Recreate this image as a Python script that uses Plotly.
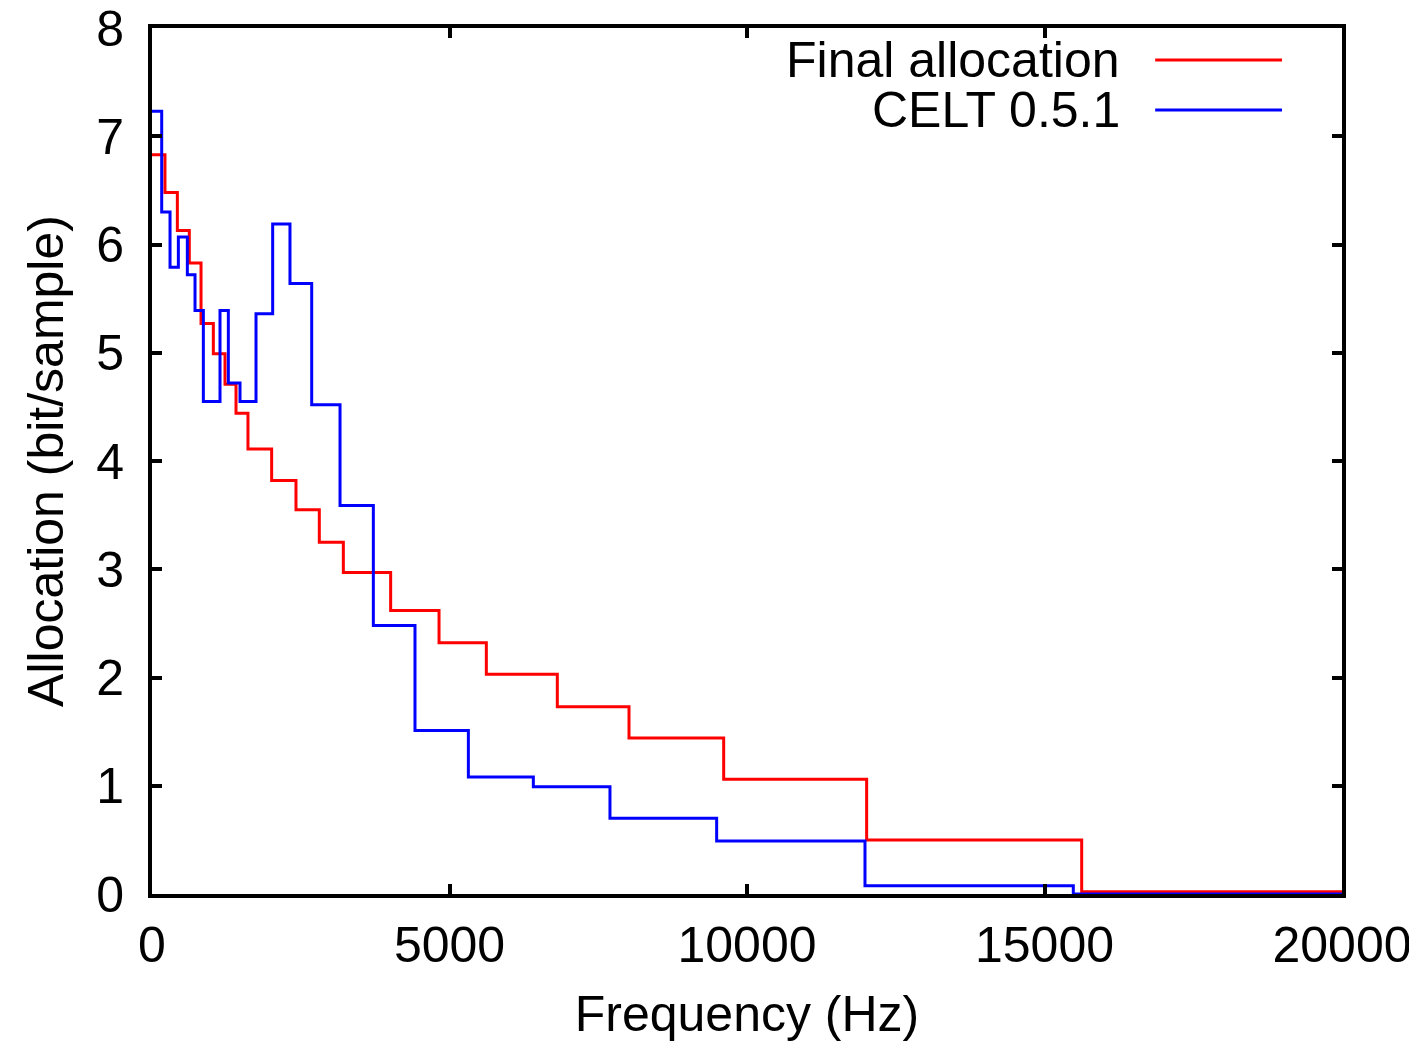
import plotly.graph_objects as go

# Band edges (Hz) and allocations (bit/sample)
final_edges = [0, 218, 426, 627, 824, 1031, 1227, 1412, 1613, 2011, 2420, 2812, 3216,
               4011, 4824, 5619, 6812, 8017, 9608, 12011, 15625, 20000]
final_alloc = [6.83, 6.48, 6.13, 5.83, 5.27, 4.99, 4.71, 4.44, 4.11, 3.82, 3.55, 3.25,
               2.97, 2.62, 2.32, 2.03, 1.73, 1.44, 1.06, 0.50, 0.02]

celt_edges = [0, 163, 303, 443, 594, 723, 863, 1143, 1283, 1479, 1748, 2028, 2319, 2684,
              3160, 3720, 4420, 5317, 6409, 7697, 9490, 11983, 15484, 20000]
celt_alloc = [7.23, 6.30, 5.79, 6.07, 5.72, 5.39, 4.55, 5.39, 4.72, 4.55, 5.36, 6.19, 5.64,
              4.52, 3.59, 2.48, 1.51, 1.08, 0.99, 0.70, 0.49, 0.077, 0.0]

x_ticks = [0, 5000, 10000, 15000, 20000]
x_tick_labels = ["0", "5000", "10000", "15000", "20000"]
y_ticks = [0, 1, 2, 3, 4, 5, 6, 7, 8]
y_tick_labels = ["0", "1", "2", "3", "4", "5", "6", "7", "8"]

series = [
    ("Final allocation", final_edges, final_alloc, "#ff0000"),
    ("CELT 0.5.1", celt_edges, celt_alloc, "#0000ff"),
]

FONT = "Liberation Sans, Arial, Helvetica, sans-serif"
FS = 50
fig = go.Figure()
for name, edges, vals, color in series:
    fig.add_trace(go.Scatter(
        x=edges, y=vals + [vals[-1]], mode="lines", name=name,
        line=dict(color=color, width=3, shape="hv"), showlegend=False))

# gnuplot-style key: text on the left, line sample on the right
key_y = [0.963, 0.9053]
for (name, edges, vals, color), ky in zip(series, key_y):
    fig.add_annotation(xref="paper", yref="paper", x=0.8151, y=ky, text=name,
                       showarrow=False, xanchor="right", yanchor="middle",
                       font=dict(family=FONT, size=FS, color="black"))
    fig.add_shape(type="line", xref="paper", yref="paper", x0=0.843, x1=0.9496,
                  y0=ky, y1=ky, line=dict(color=color, width=3))

axis_common = dict(
    showline=True, linecolor="black", linewidth=4, mirror="ticks",
    ticks="inside", ticklen=10, tickwidth=3.5, tickcolor="black",
    showgrid=False, zeroline=False, automargin=False,
    ticklabeloverflow="allow",
    tickfont=dict(family=FONT, size=FS, color="black"),
)
fig.update_xaxes(range=[0, 20000], tickvals=x_ticks, ticktext=x_tick_labels,
                 ticklabelstandoff=4,
                 title=dict(text="Frequency (Hz)", font=dict(family=FONT, size=FS, color="black"),
                            standoff=28),
                 **axis_common)
fig.update_yaxes(range=[0, 8], tickvals=y_ticks, ticktext=y_tick_labels,
                 ticklabelstandoff=14,
                 title=dict(text="Allocation (bit/sample)", font=dict(family=FONT, size=FS, color="black"),
                            standoff=18),
                 **axis_common)
# page body has an 8px default margin; size the figure to fit the window
fig.update_layout(
    width=1409, height=1034,
    margin=dict(l=144, r=75, t=20, b=148),
    plot_bgcolor="white", paper_bgcolor="white",
)
fig.write_html("out.html")
